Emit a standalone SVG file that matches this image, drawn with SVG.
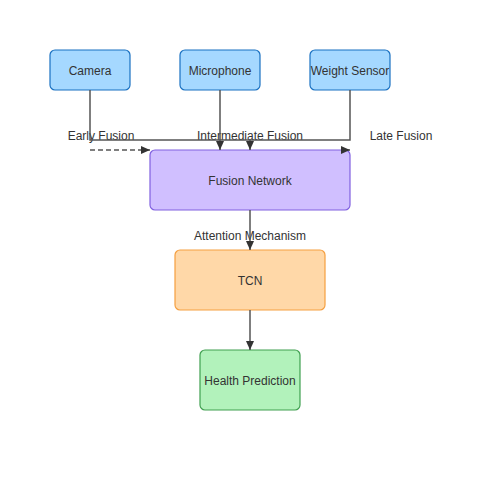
<svg xmlns="http://www.w3.org/2000/svg" width="500" height="500" viewBox="0 0 500 500">
<style>
text{font-family:"Liberation Sans",Arial,sans-serif;font-size:12px;fill:#333;text-anchor:middle;dominant-baseline:central}
.n rect{stroke-width:1.2}
.sensor rect{fill:#a5d8ff;stroke:#1971c2}
.c{fill:none;stroke:#555;stroke-width:1.5}
</style>
<defs>
<marker id="ah" markerWidth="10" markerHeight="10" refX="9" refY="5" orient="auto" markerUnits="userSpaceOnUse">
<path d="M0,1 L9,5 L0,9 Z" fill="#333"/>
</marker>
</defs>
<rect width="500" height="500" fill="#fff"/>
<g id="camera" class="n sensor"><rect x="50" y="50" width="80" height="40" rx="5"/><text x="90" y="71">Camera</text></g>
<g id="microphone" class="n sensor"><rect x="180" y="50" width="80" height="40" rx="5"/><text x="220" y="71">Microphone</text></g>
<g id="weight" class="n sensor"><rect x="310" y="50" width="80" height="40" rx="5"/><text x="350" y="71">Weight Sensor</text></g>
<g id="fusion" class="n"><rect x="150" y="150" width="200" height="60" rx="5" fill="#d0bfff" stroke="#8060e0"/><text x="250" y="181">Fusion Network</text></g>
<g id="tcn" class="n"><rect x="175" y="250" width="150" height="60" rx="5" fill="#ffd8a8" stroke="#f59f40"/><text x="250" y="281">TCN</text></g>
<g id="health" class="n"><rect x="200" y="350" width="100" height="60" rx="5" fill="#b2f2bb" stroke="#40a050"/><text x="250" y="381">Health Prediction</text></g>
<g id="connectors">
<text x="101" y="136">Early Fusion</text>
<text x="250" y="136">Intermediate Fusion</text>
<text x="401" y="136">Late Fusion</text>
<text x="250" y="236">Attention Mechanism</text>
<path class="c" d="M90,90 V140 H350 V90"/>
<path class="c" d="M220,90 V150" marker-end="url(#ah)"/>
<path class="c" d="M250,140 V150" marker-end="url(#ah)"/>
<path class="c" d="M343,150 H350" marker-end="url(#ah)"/>
<path class="c" d="M90,150 H150" stroke-dasharray="5,3" marker-end="url(#ah)"/>
<path class="c" d="M250,210 V250" marker-end="url(#ah)"/>
<path class="c" d="M250,310 V350" marker-end="url(#ah)"/>
</g>
</svg>
